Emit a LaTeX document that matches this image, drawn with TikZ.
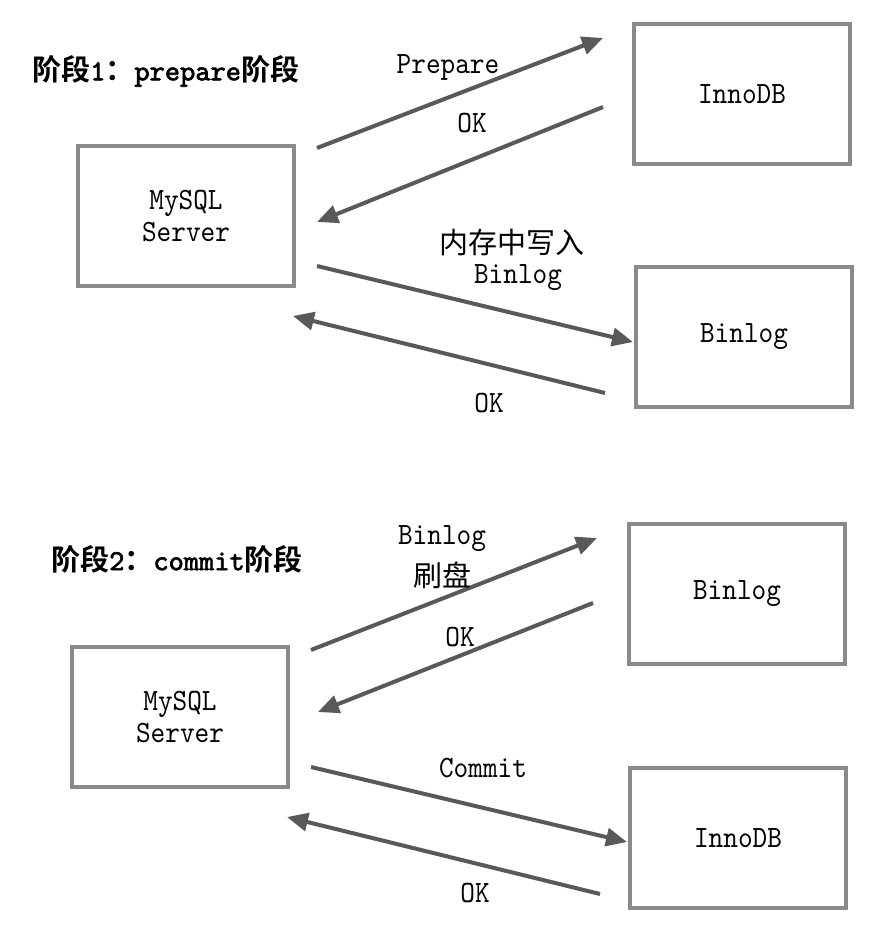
\documentclass[tikz,border=0pt]{standalone}
\usepackage{fontspec}
\newfontfamily\cjk{Noto Sans CJK SC}[BoldFont={* Bold}]
\newfontfamily\lmt{lmmono10-regular.otf}[FakeStretch=0.9]
\newfontfamily\lmtb{lmmono10-regular.otf}[FakeBold=2.2]
\usetikzlibrary{arrows.meta}
\definecolor{boxgray}{HTML}{8A8A8A}
\definecolor{arrgray}{HTML}{595959}
\newcommand\labfont{\fontsize{31}{32}\selectfont\lmt}
\newcommand\cjkfont{\fontsize{29}{32}\selectfont\cjk}
\newcommand\ttlfont{\fontsize{29}{32}\selectfont}
\newcommand\tc[1]{{\cjk\bfseries #1}}
\newcommand\tl[1]{{\lmtb\fontsize{29}{32}\selectfont #1}}
\tikzset{
  box/.style={draw=boxgray, line width=4pt, minimum width=216pt, minimum height=140pt,
    inner sep=0pt, align=center, font=\labfont},
  arr/.style={draw=arrgray, line width=4pt, -{Triangle[length=21pt,width=18pt]}},
  lbl/.style={inner sep=0pt, align=center, font=\labfont},
  clbl/.style={inner sep=0pt, align=center, font=\cjkfont},
  ttl/.style={inner sep=0pt, anchor=west, font=\ttlfont}
}
\begin{document}
\begin{tikzpicture}[x=1pt,y=-1pt]
\useasboundingbox (0,0) rectangle (879,931);
\fill[white] (0,0) rectangle (879,931);

% ---------- Stage 1 ----------
\node[ttl] (t1) at (32,71) {\tc{阶段}\tl{1}\tc{：}\tl{prepare}\tc{阶段}};
\node[box] (my1) at (186,216) {MySQL\\Server};
\node[box] (inno1) at (742,94) {InnoDB};
\node[box] (bin1) at (744,337) {Binlog};

\coordinate (a1s) at (317,148); \coordinate (a1e) at (603,38);
\coordinate (a2s) at (603,107); \coordinate (a2e) at (317,222);
\coordinate (a3s) at (317,266); \coordinate (a3e) at (633,342);
\coordinate (a4s) at (605,393); \coordinate (a4e) at (293,316);
\draw[arr] (a1s) -- (a1e);
\draw[arr] (a2s) -- (a2e);
\draw[arr] (a3s) -- (a3e);
\draw[arr] (a4s) -- (a4e);

\node[lbl] (l1) at (448,67) {Prepare};
\node[lbl] (l2) at (472,123) {OK};
\node[clbl] (l3) at (512,243) {内存中写入};
\node[lbl] (l3b) at (518,278) {Binlog};
\node[lbl] (l4) at (489,403) {OK};

% ---------- Stage 2 ----------
\node[ttl] (t2) at (51,559) {\tc{阶段}\tl{2}\tc{：}\tl{commit}\tc{阶段}};
\node[box] (my2) at (180,717) {MySQL\\Server};
\node[box] (bin2) at (737,594) {Binlog};
\node[box] (inno2) at (738,838) {InnoDB};

\coordinate (b1s) at (311,650); \coordinate (b1e) at (597,538);
\coordinate (b2s) at (593,603); \coordinate (b2e) at (318,712);
\coordinate (b3s) at (311,767); \coordinate (b3e) at (627,842);
\coordinate (b4s) at (600,894); \coordinate (b4e) at (287,817);
\draw[arr] (b1s) -- (b1e);
\draw[arr] (b2s) -- (b2e);
\draw[arr] (b3s) -- (b3e);
\draw[arr] (b4s) -- (b4e);

\node[lbl] (m1) at (442,539) {Binlog};
\node[clbl] (m1b) at (442,575) {刷盘};
\node[lbl] (m2) at (460,637) {OK};
\node[lbl] (m3) at (483,768) {Commit};
\node[lbl] (m4) at (475,893) {OK};
\end{tikzpicture}
\end{document}
